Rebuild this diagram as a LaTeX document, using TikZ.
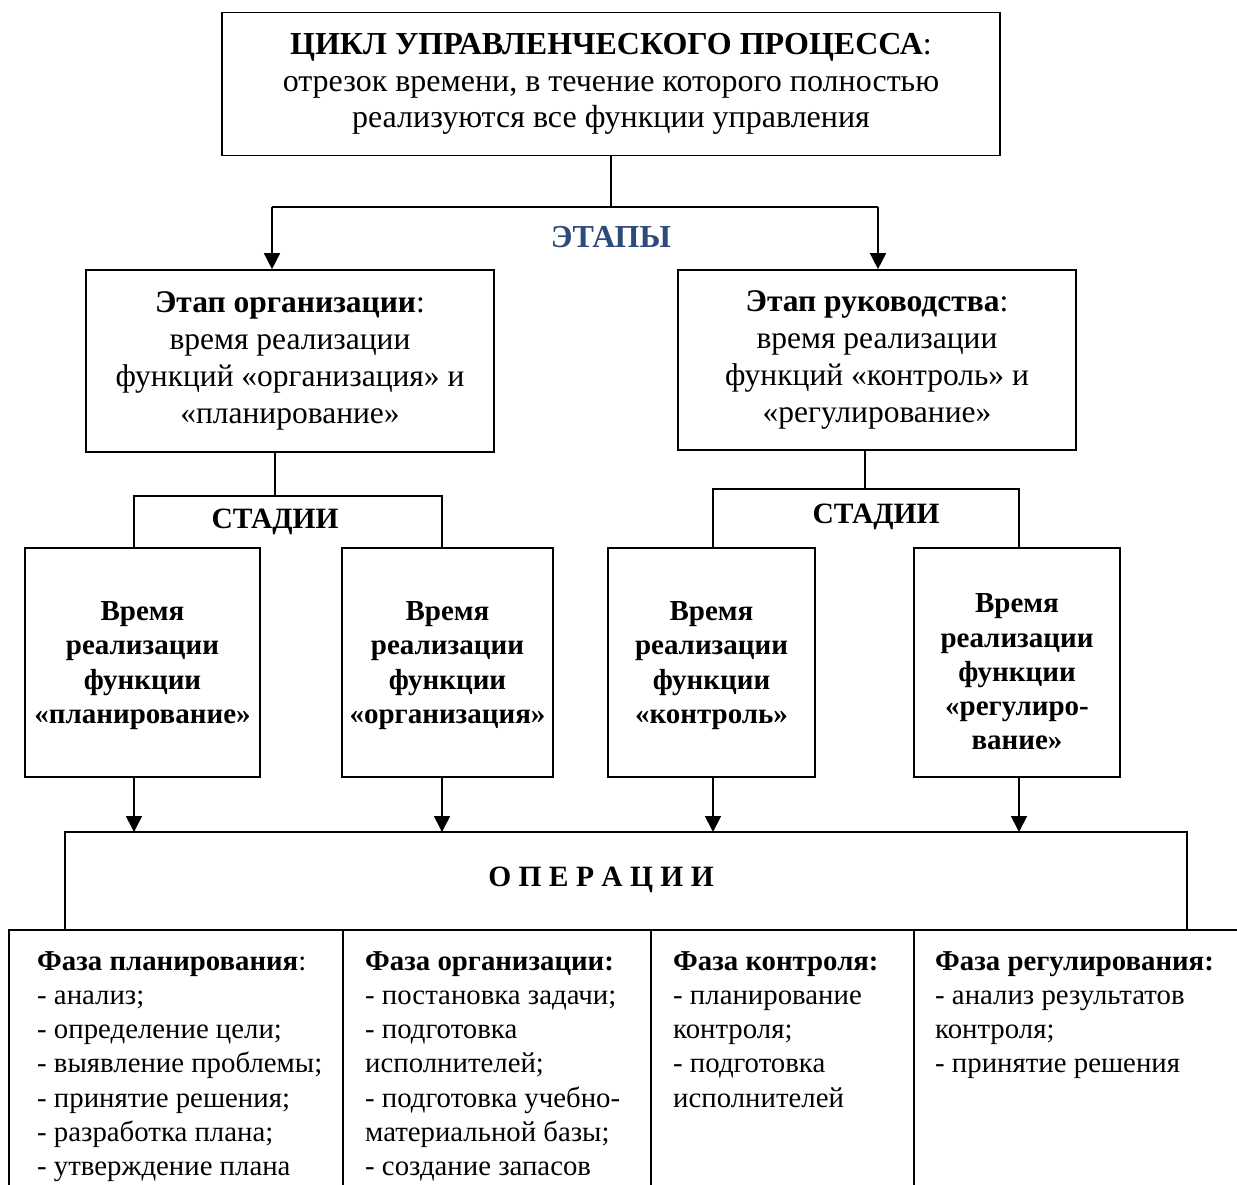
\documentclass[tikz,border=0pt]{standalone}
\usepackage{fontspec}
\setmainfont{Liberation Serif}
\usetikzlibrary{arrows.meta}
\definecolor{etapblue}{RGB}{44,74,122}
\tikzset{
  box/.style={draw, line width=1.7pt, align=center, inner sep=0pt},
  ln/.style={line width=1.7pt},
  thin/.style={line width=1.3pt},
  arr/.style={line width=1.7pt, -{Triangle[width=16pt,length=16pt]}},
  topf/.style={font=\fontsize{32}{36.5}\selectfont},
  big/.style={font=\fontsize{31.5}{37}\selectfont},
  stg/.style={font=\fontsize{29}{34.3}\selectfont\bfseries, align=center, inner sep=0pt},
  lbl/.style={font=\fontsize{29.5}{34}\selectfont\bfseries, inner sep=0pt},
  lst/.style={font=\fontsize{28.8}{34.3}\selectfont, align=left, anchor=north west, inner sep=0pt},
}
\begin{document}
\begin{tikzpicture}[x=1pt,y=-1pt]
\useasboundingbox (0,0) rectangle (1237,1184);
% top
\node[box,topf,minimum width=778pt,minimum height=143pt] (top) at (611,84)
  {\textbf{ЦИКЛ УПРАВЛЕНЧЕСКОГО ПРОЦЕССА}:\\отрезок времени, в течение которого полностью\\реализуются все функции управления};
\node[lbl,text=etapblue,font=\fontsize{32}{36}\selectfont\bfseries] (etapy) at (611,237) {ЭТАПЫ};
% stages of level 2
\node[box,big,minimum width=408pt,minimum height=182pt] (org) at (290,361)
  {\textbf{Этап организации}:\\время реализации\\функций «организация» и\\«планирование»};
\node[box,big,minimum width=398pt,minimum height=180pt] (ruk) at (877,360)
  {\textbf{Этап руководства}:\\время реализации\\функций «контроль» и\\«регулирование»};
\coordinate (jE) at (611,207);
\coordinate (jEL) at (272,207);
\coordinate (jER) at (878,207);
\draw[thin] (top.south) -- (jE);
\draw[ln] (jEL) -- (jER);
\draw[arr] (jEL) -- (jEL |- org.north);
\draw[arr] (jER) -- (jER |- ruk.north);
% stadii labels
\node[lbl] (stL) at (275,522) {СТАДИИ};
\node[lbl] (stR) at (876,517) {СТАДИИ};
% stage boxes
\node[box,minimum width=235pt,minimum height=229pt] (s1) at (142.5,662.5) {};
\node[box,minimum width=211pt,minimum height=229pt] (s2) at (447.5,662.5) {};
\node[box,minimum width=207pt,minimum height=229pt] (s3) at (711.5,662.5) {};
\node[box,minimum width=206pt,minimum height=229pt] (s4) at (1017,662.5) {};
\node[stg] (t1) at ([yshift=-3pt]s1.center) {Время\\реализации\\функции\\«планирование»};
\node[stg] (t2) at ([yshift=-3pt]s2.center) {Время\\реализации\\функции\\«организация»};
\node[stg] (t3) at ([yshift=-3pt]s3.center) {Время\\реализации\\функции\\«контроль»};
\node[stg] (t4) at ([yshift=-9.5pt]s4.center) {Время\\реализации\\функции\\«регулиро-\\вание»};
% connectors to stage boxes
\coordinate (jL) at (275,496);
\coordinate (jL1) at (134,496);
\coordinate (jL2) at (442,496);
\coordinate (jR) at (865,489);
\coordinate (jR1) at (713,489);
\coordinate (jR2) at (1019,489);
\draw[thin] (org.south -| jL) -- (jL);
\draw[thin] (ruk.south -| jR) -- (jR);
\draw[ln] (jL1 |- s1.north) -- (jL1) -- (jL2) -- (jL2 |- s2.north);
\draw[ln] (jR1 |- s3.north) -- (jR1) -- (jR2) -- (jR2 |- s4.north);
% operations frame
\coordinate (oTL) at (65,832);
\coordinate (oTR) at (1187,832);
\coordinate (oBL) at (65,930);
\coordinate (oBR) at (1187,930);
\draw[ln] (oBL) -- (oTL) -- (oTR) -- (oBR);
\node[lbl] (ops) at (601,880) {О~П~Е~Р~А~Ц~И~И};
\draw[arr] (s1.south -| jL1) -- (jL1 |- oTL);
\draw[arr] (s2.south -| jL2) -- (jL2 |- oTL);
\draw[arr] (s3.south -| jR1) -- (jR1 |- oTL);
\draw[arr] (s4.south -| jR2) -- (jR2 |- oTL);
% phase row frame
\coordinate (pL) at (9,930);
\coordinate (pR) at (1245,930);
\draw[ln] (9,1190) -- (pL) -- (pR);
\coordinate (d1) at (343,930);
\coordinate (d2) at (651,930);
\coordinate (d3) at (914,930);
\draw[ln] (d1) -- ++(0,260);
\draw[ln] (d2) -- ++(0,260);
\draw[ln] (d3) -- ++(0,260);
% phase texts
\node[lst] (f1) at (37,951)
  {\textbf{Фаза планирования}:\\- анализ;\\- определение цели;\\- выявление проблемы;\\- принятие решения;\\- разработка плана;\\- утверждение плана};
\node[lst] (f2) at (365,951)
  {\textbf{Фаза организации:}\\- постановка задачи;\\- подготовка\\исполнителей;\\- подготовка учебно-\\материальной базы;\\- создание запасов};
\node[lst] (f3) at (673,951)
  {\textbf{Фаза контроля:}\\- планирование\\контроля;\\- подготовка\\исполнителей};
\node[lst] (f4) at (935,951)
  {\textbf{Фаза регулирования:}\\- анализ результатов\\контроля;\\- принятие решения};
\end{tikzpicture}
\end{document}
